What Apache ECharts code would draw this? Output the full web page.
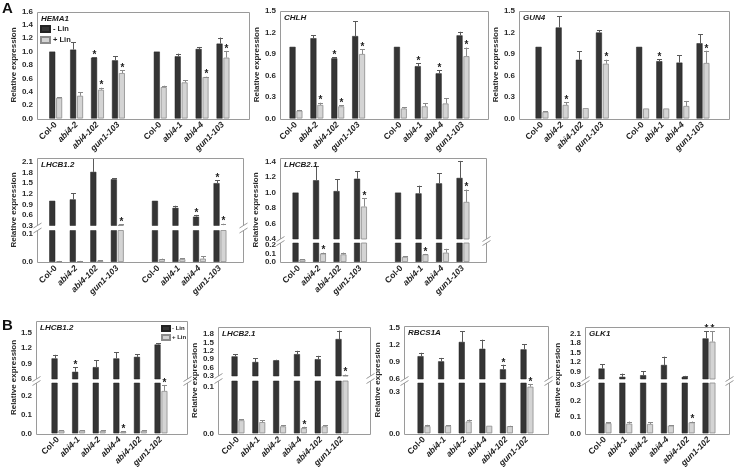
<!DOCTYPE html>
<html><head><meta charset="utf-8">
<script src="https://cdn.jsdelivr.net/npm/echarts@6/dist/echarts.min.js"></script>
<style>html,body{margin:0;padding:0;background:#fff}#c{width:734px;height:470px}</style>
</head><body><div id="c"></div>
<script>
// ---------------- categories ----------------
const catsA = ['Col-0','abi4-2','abi4-102','gun1-103','','Col-0','abi4-1','abi4-4','gun1-103'];
const catsB = ['Col-0','abi4-1','abi4-2','abi4-4','abi4-102','gun1-102'];
const seriesNames = ['- Lin', '+ Lin'];

// ---------------- panel A : HEMA1 ----------------
const hema1Minus    = [1.00, 1.03, 0.91, 0.87, null, 1.00, 0.93, 1.04, 1.12];
const hema1MinusErr = [0.00, 0.11, 0.01, 0.06, null, 0.00, 0.04, 0.03, 0.09];
const hema1Plus     = [0.31, 0.34, 0.43, 0.68, null, 0.47, 0.54, 0.62, 0.91];
const hema1PlusErr  = [0.01, 0.05, 0.03, 0.04, null, 0.02, 0.03, 0.005, 0.10];
const hema1MinusSig = [0,0,1,0,0,0,0,0,0];
const hema1PlusSig  = [0,0,1,1,0,0,0,1,1];
const hema1Ticks    = [0,0.2,0.4,0.6,0.8,1.0,1.2,1.4,1.6];

// ---------------- panel A : CHLH ----------------
const chlhMinus    = [1.00, 1.12, 0.84, 1.15, null, 1.00, 0.73, 0.63, 1.16];
const chlhMinusErr = [0.00, 0.04, 0.015, 0.21, null, 0.00, 0.04, 0.04, 0.05];
const chlhPlus     = [0.11, 0.19, 0.17, 0.90, null, 0.14, 0.17, 0.21, 0.87];
const chlhPlusErr  = [0.01, 0.03, 0.015, 0.065, null, 0.015, 0.04, 0.07, 0.12];
const chlhMinusSig = [0,0,1,0,0,0,1,1,0];
const chlhPlusSig  = [0,1,1,1,0,0,0,0,1];
const chlhTicks    = [0,0.3,0.6,0.9,1.2,1.5];

// ---------------- panel A : GUN4 ----------------
const gun4Minus    = [1.00, 1.27, 0.82, 1.20, null, 1.00, 0.80, 0.78, 1.05];
const gun4MinusErr = [0.00, 0.16, 0.12, 0.035, null, 0.00, 0.025, 0.10, 0.125];
const gun4Plus     = [0.094, 0.19, 0.145, 0.765, null, 0.14, 0.14, 0.175, 0.775];
const gun4PlusErr  = [0.01, 0.035, 0.00, 0.055, null, 0.00, 0.00, 0.07, 0.17];
const gun4MinusSig = [0,0,0,0,0,0,1,0,0];
const gun4PlusSig  = [0,1,0,1,0,0,0,0,1];
const gun4Ticks    = [0,0.3,0.6,0.9,1.2,1.5];

// ---------------- panel A : LHCB1.2 ----------------
const lhcb12aMinus    = [1.00, 1.04, 1.82, 1.61, null, 1.00, 0.80, 0.55, 1.50];
const lhcb12aMinusErr = [0.00, 0.17, 0.38, 0.03, null, 0.00, 0.06, 0.05, 0.08];
const lhcb12aPlus     = [0.003, 0.003, 0.005, 0.32, null, 0.01, 0.01, 0.012, 0.31];
const lhcb12aPlusErr  = [0.001, 0.001, 0.002, 0.01, null, 0.002, 0.003, 0.008, 0.04];
const lhcb12aMinusSig = [0,0,0,0,0,0,0,1,1];
const lhcb12aPlusSig  = [0,0,0,1,0,0,0,0,1];
const lhcb12aTicksHi  = [0.3,0.6,0.9,1.2,1.5,1.8,2.1];
const lhcb12aTicksLo  = [0.0,0.1];

// ---------------- panel A : LHCB2.1 ----------------
const lhcb21aMinus    = [1.00, 1.16, 1.02, 1.18, null, 1.00, 0.99, 1.12, 1.19];
const lhcb21aMinusErr = [0.00, 0.18, 0.15, 0.10, null, 0.00, 0.10, 0.13, 0.22];
const lhcb21aPlus     = [0.03, 0.10, 0.09, 0.82, null, 0.06, 0.09, 0.11, 0.88];
const lhcb21aPlusErr  = [0.003, 0.01, 0.02, 0.11, null, 0.005, 0.005, 0.045, 0.16];
const lhcb21aMinusSig = [0,0,0,0,0,0,0,0,0];
const lhcb21aPlusSig  = [0,1,0,1,0,0,1,0,1];
const lhcb21aTicksHi  = [0.4,0.6,0.8,1.0,1.2,1.4];
const lhcb21aTicksLo  = [0.0,0.1,0.2];

// ---------------- panel B : LHCB1.2 ----------------
const lhcb12bMinus    = [1.00, 0.74, 0.83, 1.00, 1.03, 1.27];
const lhcb12bMinusErr = [0.07, 0.09, 0.13, 0.12, 0.05, 0.03];
const lhcb12bPlus     = [0.015, 0.015, 0.013, 0.008, 0.013, 0.226];
const lhcb12bPlusErr  = [0.002, 0.002, 0.002, 0.002, 0.002, 0.032];
const lhcb12bMinusSig = [0,1,0,0,0,0];
const lhcb12bPlusSig  = [0,0,0,1,0,1];
const lhcb12bTicksHi  = [0.6,0.9,1.2,1.5];
const lhcb12bTicksLo  = [0.0,0.1,0.2];

// ---------------- panel B : LHCB2.1 ----------------
const lhcb21bMinus    = [1.00, 0.80, 0.86, 1.08, 0.90, 1.62];
const lhcb21bMinusErr = [0.07, 0.13, 0.02, 0.12, 0.12, 0.30];
const lhcb21bPlus     = [0.028, 0.024, 0.015, 0.011, 0.015, 0.33];
const lhcb21bPlusErr  = [0.002, 0.004, 0.002, 0.003, 0.002, 0.02];
const lhcb21bMinusSig = [0,0,0,0,0,0];
const lhcb21bPlusSig  = [0,0,0,1,0,1];
const lhcb21bTicksHi  = [0.3,0.6,0.9,1.2,1.5,1.8];
const lhcb21bTicksLo  = [0.0,0.1];

// ---------------- panel B : RBCS1A ----------------
const rbcsMinus    = [1.00, 0.91, 1.25, 1.13, 0.77, 1.12];
const rbcsMinusErr = [0.06, 0.06, 0.19, 0.16, 0.08, 0.09];
const rbcsPlus     = [0.052, 0.055, 0.086, 0.055, 0.052, 0.34];
const rbcsPlusErr  = [0.01, 0.003, 0.014, 0.0, 0.003, 0.02];
const rbcsMinusSig = [0,0,0,0,1,0];
const rbcsPlusSig  = [0,0,0,0,0,1];
const rbcsTicksHi  = [0.6,0.9,1.2,1.5];
const rbcsTicksLo  = [0.0,0.3];

// ---------------- panel B : GLK1 ----------------
const glkMinus    = [1.00, 0.74, 0.79, 1.11, 0.74, 1.94];
const glkMinusErr = [0.14, 0.10, 0.12, 0.26, 0.03, 0.23];
const glkPlus     = [0.063, 0.06, 0.058, 0.048, 0.068, 1.84];
const glkPlusErr  = [0.005, 0.013, 0.012, 0.003, 0.005, 0.33];
const glkMinusSig = [0,0,0,0,0,1];
const glkPlusSig  = [0,0,0,0,1,1];
const glkTicksHi  = [0.9,1.2,1.5,1.8,2.1];
const glkTicksLo  = [0.0,0.1,0.2,0.3];

// ---------------- layout (pixels) ----------------
const FONT = '"Liberation Sans", Arial, Helvetica, sans-serif';
const DARK = '#353535', LIGHT = '#d4d4d4';
const FRAME = '#9a9a9a';
const BW = 6, GAP = 0.15;

const PANELS = [
  {title:'HEMA1', cats:catsA, d:[hema1Minus,hema1MinusErr,hema1Plus,hema1PlusErr,hema1MinusSig,hema1PlusSig],
   box:[37,11.5,249,118.5], first:55.7, last:223, ylx:14,
   segs:[{top:11.5,bottom:118.5,a0:[0,118.5],a1:[1.6,11.5],ticks:hema1Ticks}]},
  {title:'CHLH', cats:catsA, d:[chlhMinus,chlhMinusErr,chlhPlus,chlhPlusErr,chlhMinusSig,chlhPlusSig],
   box:[280,11,488,118.5], first:296, last:463, ylx:257,
   segs:[{top:11,bottom:118.5,a0:[0,118.5],a1:[1.5,11],ticks:chlhTicks}]},
  {title:'GUN4', cats:catsA, d:[gun4Minus,gun4MinusErr,gun4Plus,gun4PlusErr,gun4MinusSig,gun4PlusSig],
   box:[519,11,729,118.5], first:542, last:703, ylx:496,
   segs:[{top:11,bottom:118.5,a0:[0,118.5],a1:[1.5,11],ticks:gun4Ticks}]},
  {title:'LHCB1.2', cats:catsA, d:[lhcb12aMinus,lhcb12aMinusErr,lhcb12aPlus,lhcb12aPlusErr,lhcb12aMinusSig,lhcb12aPlusSig],
   box:[37,158,243,262], first:55.7, last:220, ylx:14,
   segs:[{top:158,bottom:225.5,a0:[0.3,225.5],a1:[2.1,162],ticks:lhcb12aTicksHi},
         {top:230.5,bottom:262,a0:[0,262],a1:[0.1,234],ticks:lhcb12aTicksLo}]},
  {title:'LHCB2.1', cats:catsA, d:[lhcb21aMinus,lhcb21aMinusErr,lhcb21aPlus,lhcb21aPlusErr,lhcb21aMinusSig,lhcb21aPlusSig],
   box:[280,158,486,262], first:299, last:463, ylx:256,
   segs:[{top:158,bottom:239,a0:[0.4,239],a1:[1.4,161.7],ticks:lhcb21aTicksHi},
         {top:243,bottom:262,a0:[0,262],a1:[0.2,245],ticks:lhcb21aTicksLo}]},
  {title:'LHCB1.2', cats:catsB, d:[lhcb12bMinus,lhcb12bMinusErr,lhcb12bPlus,lhcb12bPlusErr,lhcb12bMinusSig,lhcb12bPlusSig],
   box:[36,321,187,434], first:58, last:161, ylx:13.5,
   segs:[{top:321,bottom:379,a0:[0.6,379],a1:[1.5,332.7],ticks:lhcb12bTicksHi},
         {top:383,bottom:434,a0:[0,434],a1:[0.2,396],ticks:lhcb12bTicksLo}]},
  {title:'LHCB2.1', cats:catsB, d:[lhcb21bMinus,lhcb21bMinusErr,lhcb21bPlus,lhcb21bPlusErr,lhcb21bMinusSig,lhcb21bPlusSig],
   box:[218,327,370,434], first:238, last:342, ylx:195,
   segs:[{top:327,bottom:376,a0:[0.3,376],a1:[1.8,334],ticks:lhcb21bTicksHi},
         {top:381,bottom:434,a0:[0,434],a1:[0.1,386.7],ticks:lhcb21bTicksLo}]},
  {title:'RBCS1A', cats:catsB, d:[rbcsMinus,rbcsMinusErr,rbcsPlus,rbcsPlusErr,rbcsMinusSig,rbcsPlusSig],
   box:[404,326,548,434], first:424, last:527, ylx:378,
   segs:[{top:326,bottom:379,a0:[0.6,379],a1:[1.5,327.7],ticks:rbcsTicksHi},
         {top:383,bottom:434,a0:[0,434],a1:[0.3,392.3],ticks:rbcsTicksLo}]},
  {title:'GLK1', cats:catsB, d:[glkMinus,glkMinusErr,glkPlus,glkPlusErr,glkMinusSig,glkPlusSig],
   box:[585,327,729,434], first:605, last:709, ylx:558,
   segs:[{top:327,bottom:379,a0:[0.9,371.7],a1:[2.1,333.3],ticks:glkTicksHi},
         {top:383,bottom:434,a0:[0,434],a1:[0.3,385],ticks:glkTicksLo}]}
];

const grids = [], xAxes = [], yAxes = [], series = [], graphics = [];

function makeRender(mn, mx) {
  return function (params, api) {
    const i = api.value(0), v = api.value(1), e = api.value(2), side = api.value(3), sig = api.value(4);
    const isDark = side < 0;
    const cx = Math.round(api.coord([i, mn])[0] + side * (BW / 2 + BW * GAP / 2)) + 0.5;
    const top = v + e;
    const ch = [];
    const col = isDark ? '#5a5a5a' : '#8a8a8a';
    const lo = Math.max(v, mn), hi = Math.min(top, mx);
    if (e > 0 && hi > lo) {
      ch.push({type:'line', shape:{x1:cx, y1:api.coord([i, lo])[1], x2:cx, y2:api.coord([i, hi])[1]},
               style:{stroke:col, lineWidth:1}});
    }
    if (e > 0 && top >= mn && top <= mx) {
      const yy = Math.round(api.coord([i, top])[1]) + 0.5;
      ch.push({type:'line', shape:{x1:cx - 2.5, y1:yy, x2:cx + 2.5, y2:yy}, style:{stroke:col, lineWidth:1}});
    }
    if (sig && top >= mn && top <= mx) {
      const yy = api.coord([i, top])[1];
      ch.push({type:'text', style:{text:'*', x:cx, y:yy - 7, align:'center', verticalAlign:'top',
               font:'bold 10px ' + FONT, fill:'#222'}});
    }
    return {type:'group', children:ch};
  };
}

PANELS.forEach(p => {
  const n = p.cats.length;
  const w = (p.last - p.first) / (n - 1);
  const gl = p.first - w / 2;
  const gw = w * n;
  const [x0, y0, x1, y1] = p.box;
  const [minus, minusErr, plus, plusErr, minusSig, plusSig] = p.d;

  p.segs.forEach((s, si) => {
    const k = (s.a1[1] - s.a0[1]) / (s.a1[0] - s.a0[0]);
    const mn = s.a0[0] + (s.bottom - s.a0[1]) / k;
    const mx = s.a0[0] + (s.top - s.a0[1]) / k;
    const gi = grids.length;
    const isBottom = si === p.segs.length - 1;
    grids.push({left:gl, top:s.top, width:gw, height:s.bottom - s.top, containLabel:false});
    xAxes.push({type:'category', gridIndex:gi, data:p.cats, axisLine:{show:false}, axisTick:{show:false},
      axisLabel: isBottom ? {show:true, interval:0, rotate:45, margin:5,
        formatter: v => v === '' ? '' : (v === 'Col-0' ? '{n|' + v + '}' : '{i|' + v + '}'),
        rich:{n:{fontFamily:FONT, fontSize:8.5, fontWeight:'bold', color:'#222'},
              i:{fontFamily:FONT, fontSize:8.5, fontWeight:'bold', fontStyle:'italic', color:'#222'}}}
        : {show:false}});
    yAxes.push({type:'value', gridIndex:gi, min:mn, max:mx, offset:gl - x0,
      axisLine:{show:false}, axisTick:{show:false}, splitLine:{show:false},
      axisLabel:{customValues:s.ticks, formatter:v => v.toFixed(1), fontFamily:FONT, fontSize:8,
        fontWeight:'bold', color:'#2a2a2a', margin:4}});
    series.push({type:'bar', name:seriesNames[0], xAxisIndex:gi, yAxisIndex:gi, data:minus, barWidth:BW,
      barGap:(GAP * 100) + '%', silent:true, itemStyle:{color:DARK, borderColor:'#222', borderWidth:0.5}});
    series.push({type:'bar', name:seriesNames[1], xAxisIndex:gi, yAxisIndex:gi, data:plus, barWidth:BW,
      barGap:(GAP * 100) + '%', silent:true, itemStyle:{color:LIGHT, borderColor:'#8c8c8c', borderWidth:0.8}});
    const ed = [];
    minus.forEach((v, i) => {
      if (v == null) return;
      ed.push([i, v, minusErr[i], -1, minusSig[i]]);
      ed.push([i, plus[i], plusErr[i], 1, plusSig[i]]);
    });
    series.push({type:'custom', xAxisIndex:gi, yAxisIndex:gi, data:ed, renderItem:makeRender(mn, mx),
      encode:{x:0, y:1}, z:5, silent:true, clip:false});
  });

  // frame
  const ls = {stroke:FRAME, lineWidth:1};
  const X0 = Math.round(x0) + 0.5, X1 = Math.round(x1) + 0.5, Y0 = Math.round(y0) + 0.5, Y1 = Math.round(y1) + 0.5;
  graphics.push({type:'line', shape:{x1:X0, y1:Y0, x2:X1, y2:Y0}, style:ls, z:10, silent:true});
  graphics.push({type:'line', shape:{x1:X0, y1:Y1, x2:X1, y2:Y1}, style:ls, z:10, silent:true});
  if (p.segs.length === 1) {
    [X0, X1].forEach(X => graphics.push({type:'line', shape:{x1:X, y1:Y0, x2:X, y2:Y1}, style:ls, z:10, silent:true}));
  } else {
    const b1 = p.segs[0].bottom, b2 = p.segs[1].top;
    [X0, X1].forEach(X => {
      graphics.push({type:'line', shape:{x1:X, y1:Y0, x2:X, y2:b1}, style:ls, z:10, silent:true});
      graphics.push({type:'line', shape:{x1:X, y1:b2, x2:X, y2:Y1}, style:ls, z:10, silent:true});
      graphics.push({type:'line', shape:{x1:X - 4, y1:b1 + 2.5, x2:X + 4, y2:b1 - 2.5}, style:ls, z:10, silent:true});
      graphics.push({type:'line', shape:{x1:X - 4, y1:b2 + 2.5, x2:X + 4, y2:b2 - 2.5}, style:ls, z:10, silent:true});
    });
  }
  // gene title
  graphics.push({type:'text', x:x0 + 4, y:y0 + 3, silent:true, z:11,
    style:{text:p.title, font:'italic bold 8px ' + FONT, fill:'#1a1a1a'}});
  // y axis name
  graphics.push({type:'text', x:p.ylx, y:(y0 + y1) / 2, rotation:Math.PI / 2, silent:true, z:11,
    style:{text:'Relative expression', font:'bold 8px ' + FONT, fill:'#2a2a2a', align:'center', verticalAlign:'middle'}});
});

graphics.push({type:'text', x:2, y:1, style:{text:'A', font:'bold 15px ' + FONT, fill:'#111'}, silent:true});
graphics.push({type:'text', x:2, y:318, style:{text:'B', font:'bold 15px ' + FONT, fill:'#111'}, silent:true});

const chart = echarts.init(document.getElementById('c'), null, {renderer:'canvas'});
chart.setOption({
  animation:false,
  backgroundColor:'#ffffff',
  textStyle:{fontFamily:FONT},
  grid:grids, xAxis:xAxes, yAxis:yAxes, series:series,
  legend:[
    {data:seriesNames, orient:'vertical', left:40, top:25, itemWidth:9, itemHeight:6, itemGap:3, padding:0,
     icon:'rect', selectedMode:false, textStyle:{fontFamily:FONT, fontSize:7.5, fontWeight:'bold', color:'#222', padding:[0,0,0,-2]}},
    {data:seriesNames, orient:'vertical', left:161, top:325, itemWidth:8, itemHeight:5, itemGap:2, padding:0,
     icon:'rect', selectedMode:false, textStyle:{fontFamily:FONT, fontSize:6, fontWeight:'bold', color:'#222', padding:[0,0,0,-3]}}
  ],
  graphic:graphics
});
</script></body></html>
